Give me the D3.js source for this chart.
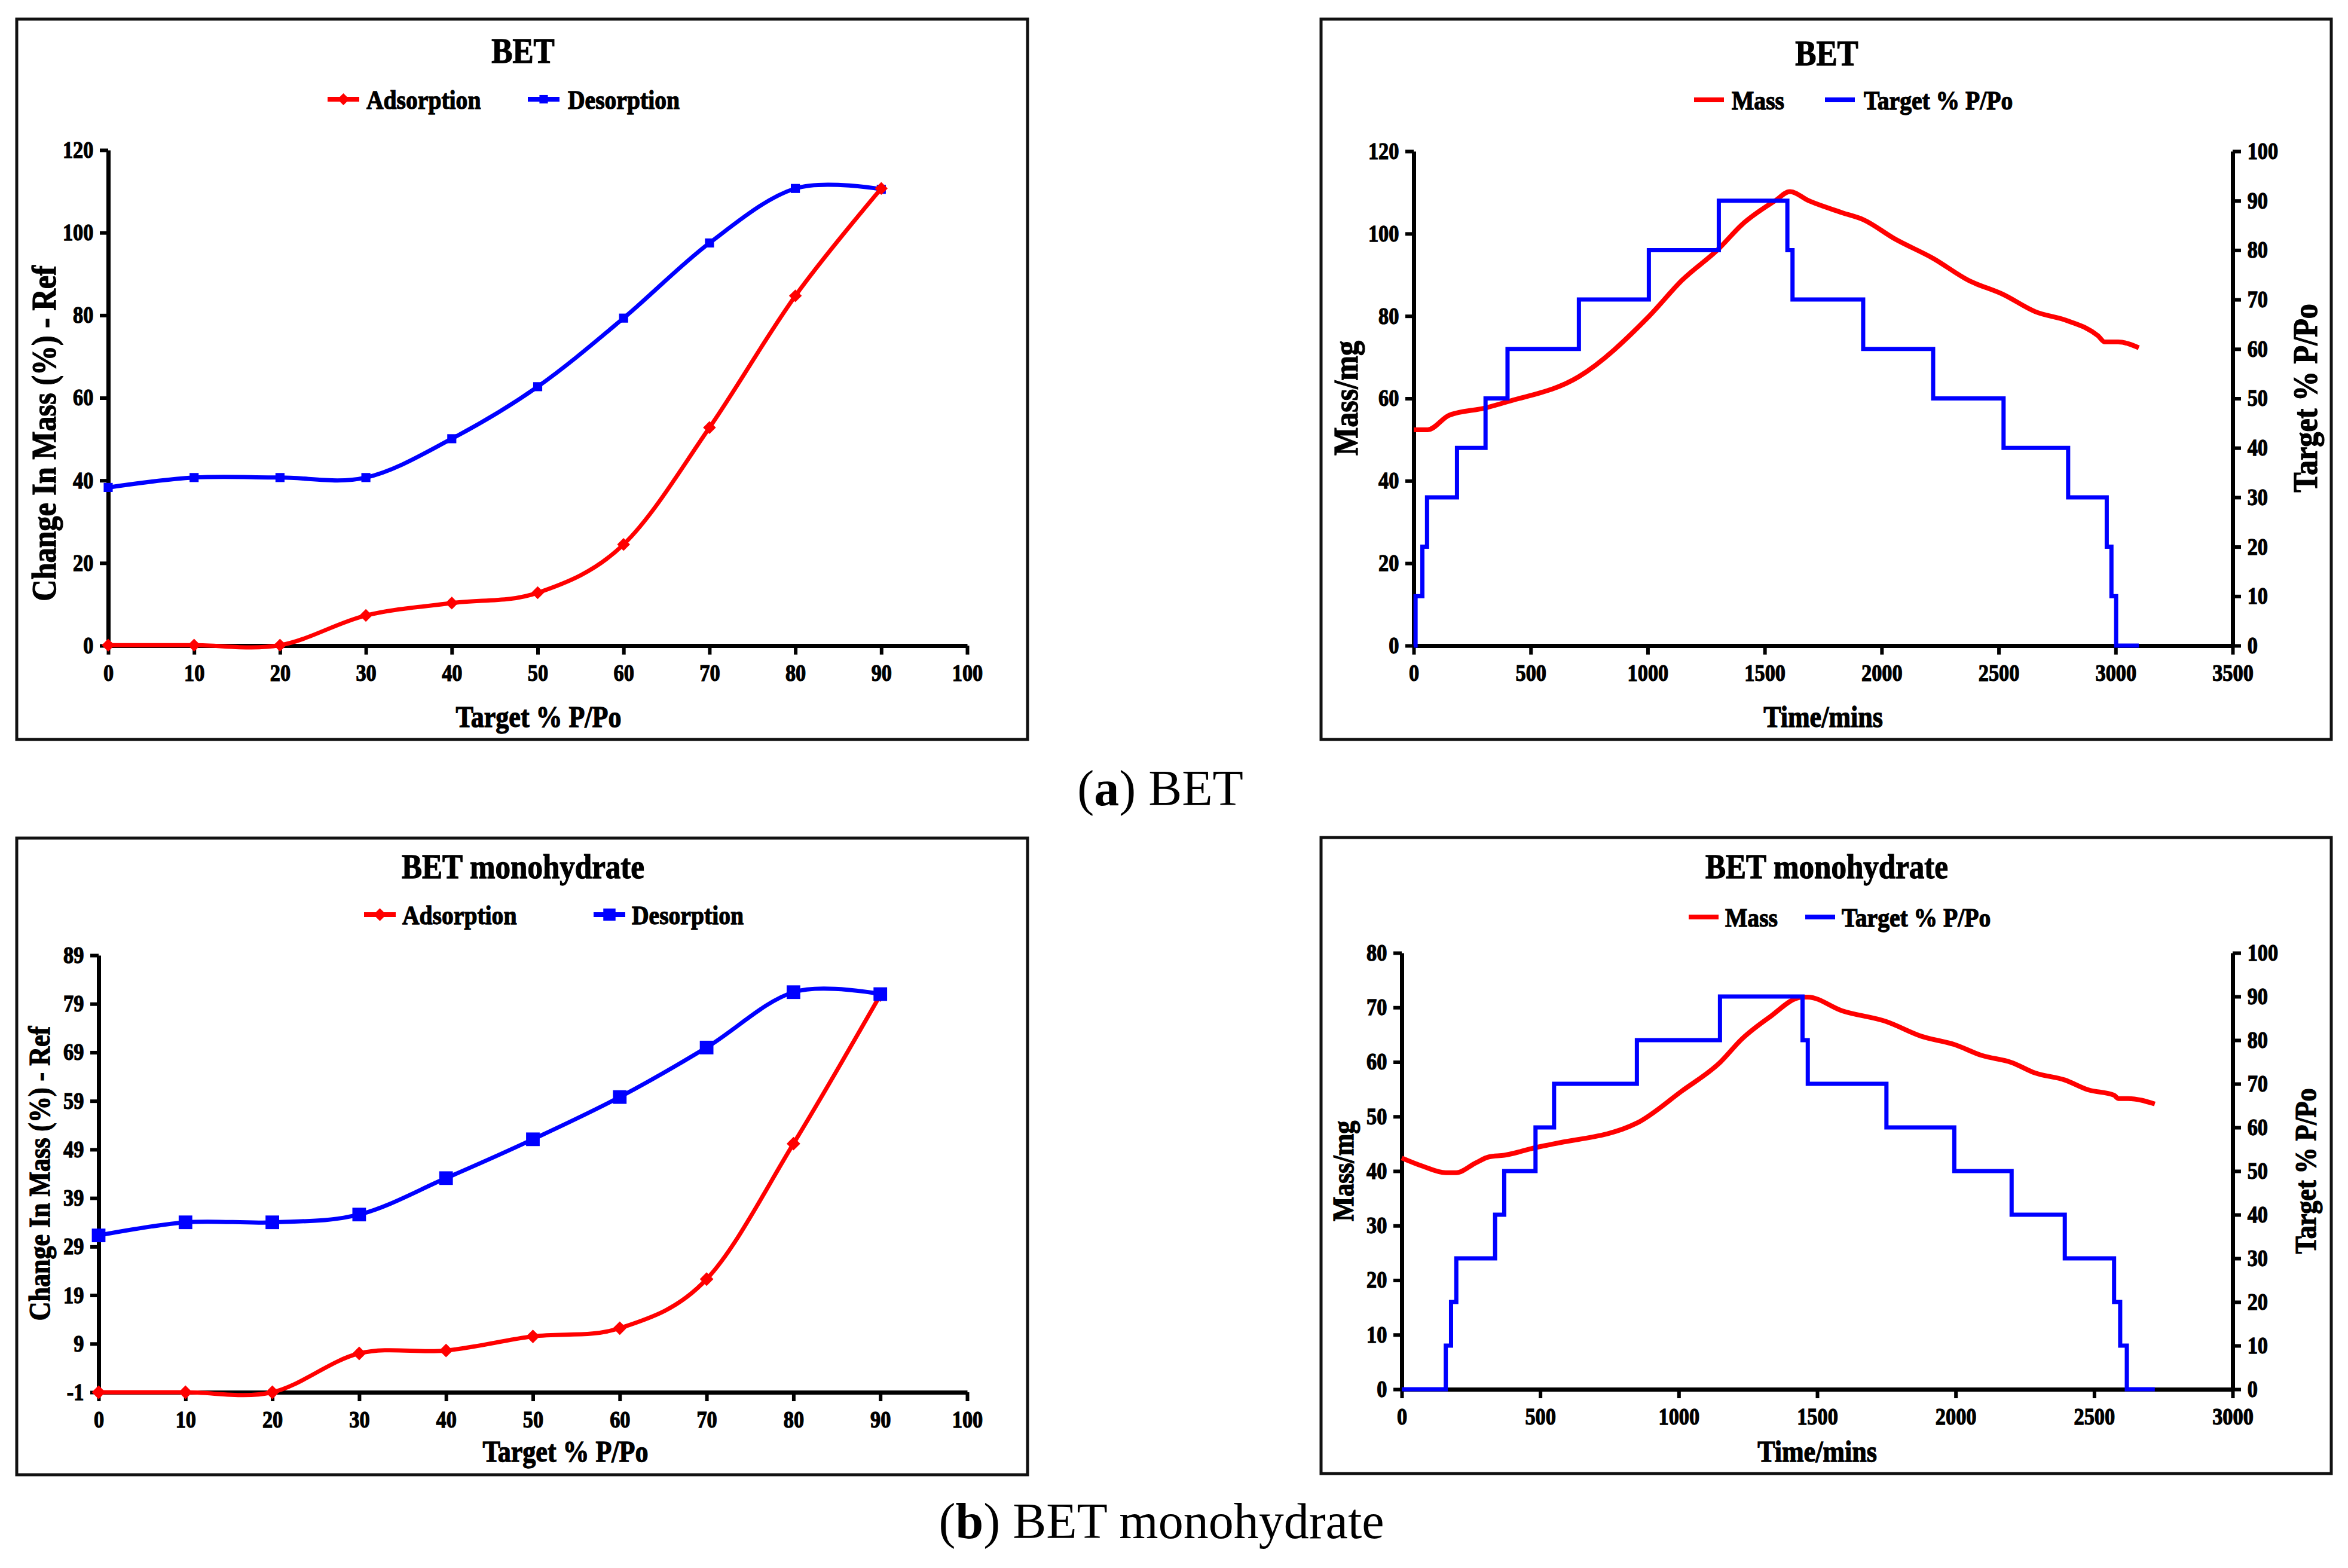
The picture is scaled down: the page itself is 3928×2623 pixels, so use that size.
<!DOCTYPE html>
<html>
<head>
<meta charset="utf-8">
<script src="https://cdn.jsdelivr.net/npm/d3@7"></script>
<style>
    body { margin: 0; background: #fff; }
    svg text { font-family: "Liberation Serif", "Times New Roman", serif; font-weight: bold; fill: #000; }
    /* the chart text in the original prints heavier than plain bold */
    svg .plot text { stroke: #000; stroke-width: 1.3px; }
</style>
</head>
<body>
<svg id="fig" width="3928" height="2623"><g class="plot"></g></svg>
<script>
// ---- data ----
const target_pp = [0, 10, 20, 30, 40, 50, 60, 70, 80, 90];

// (a) BET isotherm, change in mass (%)
const bet_ads = [0.1, 0.1, 0.1, 7.3, 10.3, 12.8, 24.5, 52.8, 84.7, 110.7];
const bet_des = [38.3, 40.7, 40.7, 40.7, 50.1, 62.7, 79.3, 97.5, 110.7, 110.5];

// (b) BET monohydrate isotherm
const mono_ads = [-1, -1, -1, 7.0, 7.6, 10.5, 12.2, 22.3, 50.2, 80.8];
const mono_des = [31.3, 34.0, 34.0, 35.6, 43.1, 51.1, 59.8, 70.0, 81.4, 81.0];

// (a) BET kinetics: mass (mg) vs time (min)
const bet_time = [0, 60, 151, 307, 401, 706, 1005, 1147, 1303, 1403, 1545, 1608, 1688, 1830, 1921, 2057, 2220, 2370, 2521, 2655, 2797, 2925, 2954, 3011, 3099];
const bet_mass = [52.4, 52.4, 55.9, 57.7, 59.2, 65.3, 79.9, 88.7, 96.3, 102.2, 108.0, 110.2, 108.0, 105.1, 103.4, 98.7, 94.0, 88.7, 85.2, 81.1, 78.8, 75.2, 73.7, 73.7, 72.3];
// target % P/Po steps (value holds from each time until the next)
const bet_step_time = [0, 8, 37, 57, 185, 307, 401, 706, 1005, 1304, 1597, 1619, 1921, 2220, 2521, 2797, 2962, 2982, 3002, 3099];
const bet_step_rh = [0, 10, 20, 30, 40, 50, 60, 70, 80, 90, 80, 70, 60, 50, 40, 30, 20, 10, 0, 0];

// (b) BET monohydrate kinetics
const mono_time = [0, 75, 159, 197, 267, 315, 370, 483, 550, 849, 1012, 1149, 1228, 1325, 1447, 1466, 1589, 1750, 1877, 1995, 2094, 2202, 2286, 2394, 2478, 2572, 2587, 2623, 2719];
const mono_mass = [42.4, 40.9, 39.7, 39.7, 41.5, 42.6, 42.9, 44.3, 45.0, 48.8, 54.7, 59.9, 64.2, 68.1, 71.9, 71.9, 69.4, 67.4, 64.7, 63.2, 61.2, 59.9, 58.0, 56.7, 54.9, 53.9, 53.3, 53.3, 52.3];
const mono_step_time = [0, 159, 178, 197, 337, 370, 483, 550, 849, 1149, 1447, 1466, 1750, 1995, 2202, 2394, 2572, 2594, 2618, 2719];
const mono_step_rh = [0, 10, 20, 30, 40, 50, 60, 70, 80, 90, 80, 70, 60, 50, 40, 30, 20, 10, 0, 0];

// tick labels
const pp_ticks = [0, 10, 20, 30, 40, 50, 60, 70, 80, 90, 100];
const bet_change_ticks = [0, 20, 40, 60, 80, 100, 120];
const mono_change_ticks = [-1, 9, 19, 29, 39, 49, 59, 69, 79, 89];
const bet_time_ticks = [0, 500, 1000, 1500, 2000, 2500, 3000, 3500];
const mono_time_ticks = [0, 500, 1000, 1500, 2000, 2500, 3000];
const bet_mass_ticks = [0, 20, 40, 60, 80, 100, 120];
const mono_mass_ticks = [0, 10, 20, 30, 40, 50, 60, 70, 80];
const rh_ticks = [0, 10, 20, 30, 40, 50, 60, 70, 80, 90, 100];

const RED = '#ff0000';
const BLUE = '#0000ff';
const tick_font = 39;
const squeeze = 0.88; // chart text in the original is a bit condensed

const root = d3.select('#fig');
const svg = root.select('.plot');

function drawFrame(b) {
    svg.append('rect')
        .attr('x', b[0]).attr('y', b[1])
        .attr('width', b[2] - b[0]).attr('height', b[3] - b[1])
        .attr('fill', 'none')
        .attr('stroke', '#111')
        .attr('stroke-width', 5);
}

function styleAxis(g) {
    g.select('.domain').attr('stroke', '#000').attr('stroke-width', 7);
    g.selectAll('.tick line').attr('stroke', '#000').attr('stroke-width', 6);
    g.selectAll('.tick text')
        .attr('font-size', tick_font)
        .attr('transform', `scale(${squeeze},1)`);
}

function marker(g, type, x, y, size, color) {
    g.append('path')
        .attr('d', d3.symbol(d3.symbolSquare, size)())
        .attr('transform', `translate(${x},${y})` + (type === 'diamond' ? ' rotate(45)' : ''))
        .attr('fill', color);
}

// condensed text placed at (x, y)
function addText(txt, x, y, size, anchor = 'middle', rot = 0) {
    return svg.append('text')
        .attr('transform', `translate(${x},${y})` + (rot ? ` rotate(${rot})` : '') + ` scale(${squeeze},1)`)
        .attr('text-anchor', anchor)
        .attr('font-size', size)
        .text(txt);
}

function rotatedLabel(txt, cx, cy, size) {
    addText(txt, cx, cy, size, 'middle', -90).attr('dy', '0.35em');
}

function legend(items, y) {
    const g = svg.append('g');
    items.forEach(it => {
        g.append('line')
            .attr('x1', it.x).attr('x2', it.x + it.len)
            .attr('y1', y).attr('y2', y)
            .attr('stroke', it.color).attr('stroke-width', 8);
        if (it.marker) marker(g, it.marker, it.x + it.len / 2, y, it.size, it.color);
        addText(it.label, it.tx, y, 45, 'start').attr('dy', '0.35em');
    });
}

// ---- sorption isotherm panel ----
function drawIsotherm(p) {
    drawFrame(p.box);

    const x = d3.scaleLinear().domain([0, 100]).range([p.x0, p.x1]);
    const y = d3.scaleLinear().domain(p.yDomain).range([p.yBot, p.yTop]);

    svg.append('g')
        .attr('transform', `translate(0,${p.yBot})`)
        .call(d3.axisBottom(x).tickValues(pp_ticks).tickSize(15).tickSizeOuter(0).tickPadding(16).tickFormat(d => String(d)))
        .call(styleAxis);
    svg.append('g')
        .attr('transform', `translate(${p.x0},0)`)
        .call(d3.axisLeft(y).tickValues(p.yTicks).tickSize(14).tickSizeOuter(0).tickPadding(14).tickFormat(d => String(d)))
        .call(styleAxis);

    const line = d3.line()
        .x((d, i) => x(target_pp[i]))
        .y(d => y(d))
        .curve(d3.curveCardinal.tension(0));

    const series = [
        { vals: p.des, color: BLUE, marker: 'square', size: p.sqSize },
        { vals: p.ads, color: RED, marker: 'diamond', size: p.dmSize }
    ];
    if (p.desOnTop) series.reverse();

    series.forEach(s => {
        svg.append('path')
            .datum(s.vals)
            .attr('fill', 'none')
            .attr('stroke', s.color)
            .attr('stroke-width', 7)
            .attr('d', line);
        const g = svg.append('g');
        s.vals.forEach((v, i) => marker(g, s.marker, x(target_pp[i]), y(v), s.size, s.color));
    });

    addText(p.title, p.titleX, p.titleY, p.titleSize);
    legend([
        { label: 'Adsorption', color: RED, marker: 'diamond', size: p.legDm, x: p.leg[0], len: 53, tx: p.leg[1] },
        { label: 'Desorption', color: BLUE, marker: 'square', size: p.legSq, x: p.leg[2], len: 53, tx: p.leg[3] }
    ], p.legY);
    addText('Target % P/Po', p.xlab[0], p.xlab[1], 50);
    rotatedLabel('Change In Mass (%) - Ref', p.ylab[0], p.ylab[1], p.ylabSize);
}

// ---- mass / humidity vs time panel ----
function drawKinetic(p) {
    drawFrame(p.box);

    const x = d3.scaleLinear().domain([0, p.xMax]).range([p.x0, p.x1]);
    const y_mass = d3.scaleLinear().domain([0, p.massMax]).range([p.yBot, p.yTop]);
    const y_rh = d3.scaleLinear().domain([0, 100]).range([p.yBot, p.yTop]);

    svg.append('g')
        .attr('transform', `translate(0,${p.yBot})`)
        .call(d3.axisBottom(x).tickValues(p.xTicks).tickSize(15).tickSizeOuter(0).tickPadding(16).tickFormat(d => String(d)))
        .call(styleAxis);
    svg.append('g')
        .attr('transform', `translate(${p.x0},0)`)
        .call(d3.axisLeft(y_mass).tickValues(p.massTicks).tickSize(14).tickSizeOuter(0).tickPadding(14).tickFormat(d => String(d)))
        .call(styleAxis);
    svg.append('g')
        .attr('transform', `translate(${p.x1},0)`)
        .call(d3.axisRight(y_rh).tickValues(rh_ticks).tickSize(14).tickSizeOuter(0).tickPadding(14).tickFormat(d => String(d)))
        .call(styleAxis);

    const mass_line = d3.line()
        .x((d, i) => x(p.time[i]))
        .y(d => y_mass(d))
        .curve(d3.curveMonotoneX);
    const step_line = d3.line()
        .x((d, i) => x(p.stepTime[i]))
        .y(d => y_rh(d))
        .curve(d3.curveStepAfter);

    svg.append('path')
        .datum(p.mass)
        .attr('fill', 'none')
        .attr('stroke', RED)
        .attr('stroke-width', 8)
        .attr('stroke-linejoin', 'round')
        .attr('d', mass_line);
    svg.append('path')
        .datum(p.stepRh)
        .attr('fill', 'none')
        .attr('stroke', BLUE)
        .attr('stroke-width', 7)
        .attr('d', step_line);

    addText(p.title, p.titleX, p.titleY, p.titleSize);
    legend([
        { label: 'Mass', color: RED, x: p.leg[0], len: 50, tx: p.leg[1] },
        { label: 'Target % P/Po', color: BLUE, x: p.leg[2], len: 50, tx: p.leg[3] }
    ], p.legY);
    addText('Time/mins', p.xlab[0], p.xlab[1], 50);
    rotatedLabel('Mass/mg', p.ylabL[0], p.ylabL[1], p.ylabSize);
    rotatedLabel('Target % P/Po', p.ylabR[0], p.ylabR[1], p.ylabSize);
}

drawIsotherm({
    box: [28, 32, 1719, 1237],
    x0: 181, x1: 1618, yTop: 251, yBot: 1080,
    yDomain: [0, 120], yTicks: bet_change_ticks,
    ads: bet_ads, des: bet_des, desOnTop: false,
    sqSize: 230, dmSize: 230, legSq: 200, legDm: 200,
    title: 'BET', titleX: 875, titleY: 105, titleSize: 60,
    legY: 166, leg: [548, 613, 883, 950],
    xlab: [901, 1216], ylab: [73, 725], ylabSize: 57
});

drawKinetic({
    box: [2210, 32, 3900, 1237],
    x0: 2365, x1: 3735, yTop: 253, yBot: 1080,
    xMax: 3500, xTicks: bet_time_ticks,
    massMax: 120, massTicks: bet_mass_ticks,
    time: bet_time, mass: bet_mass,
    stepTime: bet_step_time, stepRh: bet_step_rh,
    title: 'BET', titleX: 3056, titleY: 109, titleSize: 60,
    legY: 167, leg: [2834, 2897, 3053, 3118],
    xlab: [3050, 1216], ylabL: [2251, 666], ylabR: [3856, 666], ylabSize: 57
});

drawIsotherm({
    box: [28, 1402, 1719, 2467],
    x0: 165, x1: 1618, yTop: 1598, yBot: 2329,
    yDomain: [-1, 89], yTicks: mono_change_ticks,
    ads: mono_ads, des: mono_des, desOnTop: true,
    sqSize: 520, dmSize: 260, legSq: 420, legDm: 230,
    title: 'BET monohydrate', titleX: 875, titleY: 1469, titleSize: 58,
    legY: 1530, leg: [609, 673, 993, 1057],
    xlab: [946, 2445], ylab: [65, 1963], ylabSize: 50
});

drawKinetic({
    box: [2210, 1401, 3900, 2465],
    x0: 2345, x1: 3735, yTop: 1594, yBot: 2324,
    xMax: 3000, xTicks: mono_time_ticks,
    massMax: 80, massTicks: mono_mass_ticks,
    time: mono_time, mass: mono_mass,
    stepTime: mono_step_time, stepRh: mono_step_rh,
    title: 'BET monohydrate', titleX: 3056, titleY: 1469, titleSize: 58,
    legY: 1534, leg: [2825, 2886, 3020, 3081],
    xlab: [3040, 2445], ylabL: [2246, 1959], ylabR: [3856, 1959], ylabSize: 50
});

// sub-figure captions (plain text, outside the chart group)
function caption(letter, rest, cx, y) {
    const t = root.append('text')
        .attr('x', cx).attr('y', y)
        .attr('text-anchor', 'middle')
        .attr('font-size', 84)
        .style('font-weight', 'normal');
    t.append('tspan').text('(');
    t.append('tspan').style('font-weight', 'bold').text(letter);
    t.append('tspan').text(') ' + rest);
}
caption('a', 'BET', 1941, 1347);
caption('b', 'BET monohydrate', 1943, 2573);
</script>
</body>
</html>
